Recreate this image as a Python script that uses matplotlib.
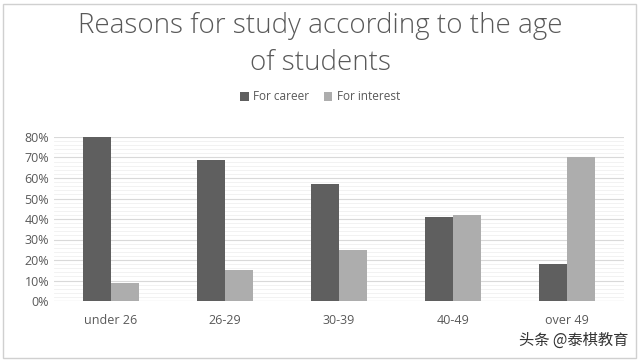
import matplotlib
matplotlib.use('Agg')
import matplotlib.pyplot as plt
import numpy as np
from matplotlib.patches import Rectangle
from matplotlib.ticker import MultipleLocator, FuncFormatter

categories = ['under 26', '26-29', '30-39', '40-49', 'over 49']
career = [80, 69, 57, 41, 18]
interest = [9, 15, 25, 42, 70]

plt.rcParams['font.family'] = ['Open Sans', 'DejaVu Sans']
txt = '#595959'

fig = plt.figure(figsize=(6.4, 3.61), dpi=100)
ax = fig.add_axes([54 / 640, 1 - 301 / 361, 570 / 640, 164 / 361])

x = np.arange(len(categories))
w = 0.245
ax.bar(x - w / 2, career, w, color='#5f5f5f', label='For career', zorder=3)
ax.bar(x + w / 2, interest, w, color='#adadad', label='For interest', zorder=3)

ax.set_xlim(-0.5, len(categories) - 0.5)
ax.set_ylim(0, 80)
ax.yaxis.set_major_locator(MultipleLocator(10))
ax.yaxis.set_minor_locator(MultipleLocator(2))
ax.yaxis.set_major_formatter(FuncFormatter(lambda v, p: f'{v:.0f}%'))
ax.grid(axis='y', which='major', color='#d9d9d9', linewidth=0.8, zorder=0)
ax.grid(axis='y', which='minor', color='#f0f0f0', linewidth=0.6, zorder=0)
ax.set_xticks(x)
ax.set_xticklabels(categories)
ax.tick_params(axis='both', which='both', length=0, colors=txt, labelsize=9)
ax.tick_params(axis='x', pad=9)
for s in ax.spines.values():
    s.set_visible(False)
ax.axhline(0, color='#d9d9d9', linewidth=0.8, zorder=2)

fig.text(0.5, 1 - 26 / 361, 'Reasons for study according to the age', ha='center', va='center',
         fontsize=20, color=txt, fontweight='light')
fig.text(0.5, 1 - 63 / 361, 'of students', ha='center', va='center',
         fontsize=20, color=txt, fontweight='light')

fig.legend(loc='center', bbox_to_anchor=(0.5, 1 - 97 / 361), ncol=2, frameon=False,
           fontsize=8.5, labelcolor=txt, handlelength=0.7, handleheight=0.7,
           handletextpad=0.4, columnspacing=1.2)

fig.text(628 / 640, 1 - 340 / 361, '头条 @泰棋教育', ha='right', va='center', fontsize=11,
         color='#333333', family=['Noto Sans CJK SC', 'DejaVu Sans'])

fig.patches.append(Rectangle((3 / 640, 3 / 361), 633 / 640, 354 / 361, transform=fig.transFigure,
                             fill=False, edgecolor='#d0d0d0', linewidth=1))

fig.savefig('out.png', dpi=100)
